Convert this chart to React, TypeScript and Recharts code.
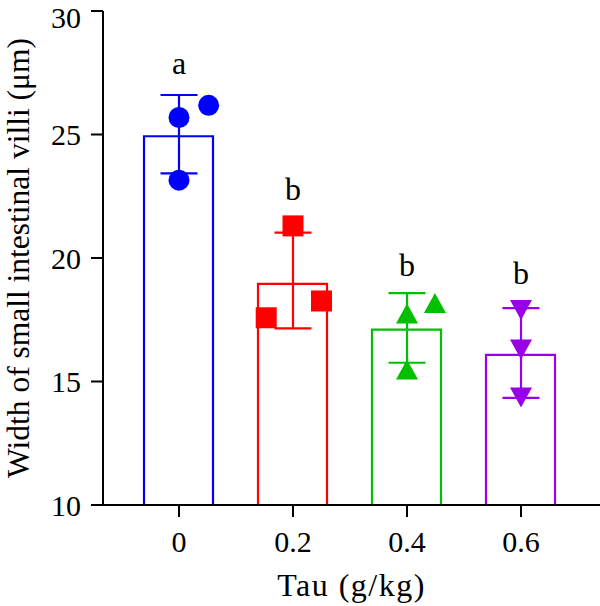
import React from 'react';
import { ComposedChart, Bar, Cell, Scatter, ErrorBar, XAxis, YAxis } from 'recharts';

// ---- data ----
const doses = [0, 0.2, 0.4, 0.6];
const doseLabels = ['0', '0.2', '0.4', '0.6'];
const means = [24.93, 18.95, 17.1, 16.08];
const errLow = [1.5, 1.8, 1.34, 1.74];
const errHigh = [1.67, 2.08, 1.48, 1.89];
const letters = ['a', 'b', 'b', 'b'];
const letterY = [27.45, 22.34, 19.27, 18.96];
const colors = ['#0000FF', '#FF0000', '#00C000', '#9A00E8'];
const shapes = ['circle', 'square', 'up', 'down'];

const g0X = [0, 0.052, 0];
const g0Y = [25.69, 26.18, 23.15];
const g1X = [0.153, 0.2, 0.25];
const g1Y = [17.58, 21.3, 18.26];
const g2X = [0.4, 0.449, 0.4];
const g2Y = [17.75, 18.18, 15.49];
const g3X = [0.6, 0.6, 0.6];
const g3Y = [17.89, 16.3, 14.35];

const yTicks = [10, 15, 20, 25, 30];

const FONT = 'Liberation Serif';

const barData = doses.map((d, i) => ({ x: d, mean: means[i] }));
const errData = doses.map((d, i) => [{ x: d, y: means[i], err: [errLow[i], errHigh[i]] }]);
const letterData = doses.map((d, i) => ({ x: d, y: letterY[i], letter: letters[i] }));
const groupPts = [
  g0X.map((x, j) => ({ x, y: g0Y[j] })),
  g1X.map((x, j) => ({ x, y: g1Y[j] })),
  g2X.map((x, j) => ({ x, y: g2Y[j] })),
  g3X.map((x, j) => ({ x, y: g3Y[j] })),
];

const makeShape = (kind: string, color: string) => (props: any) => {
  const { cx, cy } = props;
  if (cx == null || cy == null) return <g />;
  if (kind === 'circle') return <circle cx={cx} cy={cy} r={10.5} fill={color} />;
  if (kind === 'square') return <rect x={cx - 10.5} y={cy - 10.5} width={21} height={21} fill={color} />;
  const w = 11;
  const h = 10;
  if (kind === 'up')
    return <polygon points={`${cx},${cy - h} ${cx - w},${cy + h} ${cx + w},${cy + h}`} fill={color} />;
  return <polygon points={`${cx},${cy + h} ${cx - w},${cy - h} ${cx + w},${cy - h}`} fill={color} />;
};

const emptyShape = () => <g />;

const letterShape = (props: any) => {
  const { cx, cy, payload } = props;
  return (
    <text x={cx} y={cy} textAnchor="middle" fontFamily={FONT} fontSize={32} fill="#000">
      {payload.letter}
    </text>
  );
};

export default function App() {
  return (
    <div style={{ position: 'absolute', left: 0, top: 0, background: '#fff' }}>
      <ComposedChart
        width={600}
        height={606}
        data={barData}
        margin={{ top: 11, right: 0, bottom: 0, left: 0 }}
      >
        <XAxis
          xAxisId="bars"
          type="number"
          dataKey="x"
          domain={[-0.1, 0.7]}
          ticks={doses}
          padding={{ left: 19, right: 22 }}
          height={0}
          hide
        />
        <XAxis
          xAxisId="main"
          type="number"
          dataKey="x"
          domain={[-0.1, 0.7]}
          ticks={doses}
          padding={{ left: 19, right: 22 }}
          tickFormatter={(v: number) => doseLabels[doses.indexOf(v)] ?? ''}
          height={101}
          tickSize={12}
          tickMargin={14}
          axisLine={{ stroke: '#000', strokeWidth: 2 }}
          tickLine={{ stroke: '#000', strokeWidth: 2 }}
          tick={{ fill: '#000', fontSize: 30, fontFamily: FONT }}
          label={{
            value: 'Tau (g/kg)',
            position: 'insideBottom',
            offset: 10,
            fill: '#000',
            fontSize: 32,
            fontFamily: FONT,
            letterSpacing: 1.5,
          }}
        />
        <YAxis
          type="number"
          domain={[10, 30]}
          ticks={yTicks}
          width={103}
          tickSize={12}
          tickMargin={10}
          axisLine={{ stroke: '#000', strokeWidth: 2 }}
          tickLine={{ stroke: '#000', strokeWidth: 2 }}
          tick={{ fill: '#000', fontSize: 30, fontFamily: FONT }}
          label={{
            value: 'Width of small intestinal villi (μm)',
            angle: -90,
            position: 'center',
            dx: -34,
            fill: '#000',
            fontSize: 31.5,
            fontFamily: FONT,
          }}
        />
        <Bar
          xAxisId="bars"
          dataKey="mean"
          barSize={69}
          fill="#fff"
          strokeWidth={2.2}
          isAnimationActive={false}
        >
          {barData.map((_, i) => (
            <Cell key={i} stroke={colors[i]} fill="#fff" />
          ))}
        </Bar>
        {errData.map((d, i) => (
          <Scatter
            key={'e' + i}
            xAxisId="main"
            data={d}
            dataKey="y"
            shape={emptyShape}
            isAnimationActive={false}
          >
            <ErrorBar
              dataKey="err"
              direction="y"
              width={18.5}
              stroke={colors[i]}
              strokeWidth={2.2}
              isAnimationActive={false}
            />
          </Scatter>
        ))}
        {groupPts.map((d, i) => (
          <Scatter
            key={'p' + i}
            xAxisId="main"
            data={d}
            dataKey="y"
            shape={makeShape(shapes[i], colors[i])}
            isAnimationActive={false}
          />
        ))}
        <Scatter xAxisId="main" data={letterData} dataKey="y" shape={letterShape} isAnimationActive={false} />
      </ComposedChart>
    </div>
  );
}
